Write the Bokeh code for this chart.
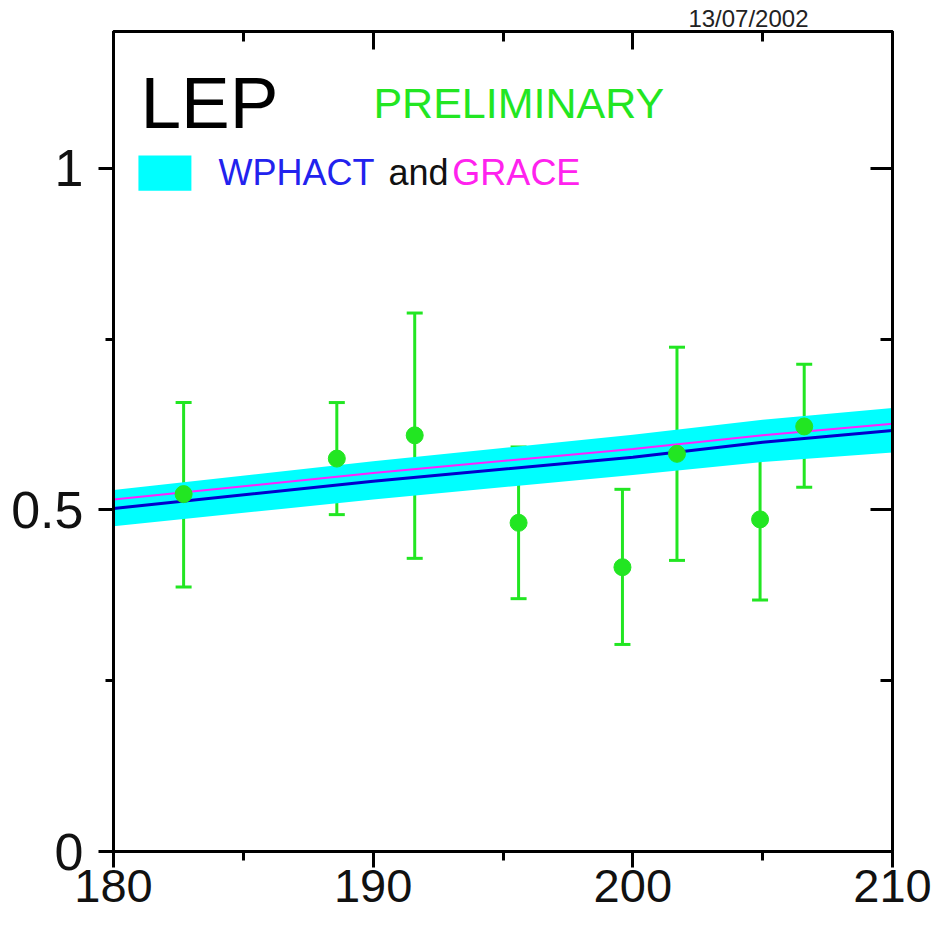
from bokeh.plotting import figure
from bokeh.models import (ColumnDataSource, Whisker, TeeHead, Label, LinearAxis,
                          FixedTicker, Range1d, Title)
from bokeh.embed import file_html
from bokeh.resources import INLINE

# ---- data ----
energy = [182.7, 188.6, 191.6, 195.6, 199.6, 201.7, 204.9, 206.6]
value = [0.523, 0.575, 0.609, 0.481, 0.416, 0.582, 0.486, 0.622]
err_hi = [0.657, 0.657, 0.788, 0.592, 0.530, 0.738, 0.602, 0.713]
err_lo = [0.387, 0.493, 0.429, 0.370, 0.303, 0.426, 0.368, 0.533]

sqrt_s = [180, 190, 200, 205, 210]
band_hi = [0.529, 0.571, 0.610, 0.632, 0.649]
band_lo = [0.476, 0.515, 0.551, 0.570, 0.584]
wphact = [0.502, 0.542, 0.577, 0.599, 0.616]
grace = [0.515, 0.554, 0.589, 0.609, 0.626]

x_ticks = [180, 190, 200, 210]
x_minor = [185, 195, 205]
y_ticks = [0, 0.5, 1]
y_minor = [0.25, 0.75]

FONT = "Liberation Sans"
GREEN = "#22e622"

p = figure(width=938, height=922, output_backend="svg", toolbar_location=None,
           x_range=Range1d(180, 210), y_range=Range1d(0, 1.2),
           x_axis_location=None, y_axis_location=None,
           min_border_left=113, min_border_right=46, min_border_top=31,
           min_border_bottom=71)
p.grid.visible = False
p.outline_line_color = "black"
p.outline_line_width = 3
p.background_fill_color = "white"
p.border_fill_color = "white"

p.title = Title(text="13/07/2002", align="right", text_font=FONT,
                text_font_size="24px", text_font_style="normal",
                text_color="#222222", offset=84, standoff=0)

def make_axis(ticks, minor, labels, tin, tout, mtin, mtout, size="52px"):
    ax = LinearAxis(ticker=FixedTicker(ticks=ticks, minor_ticks=minor))
    ax.axis_line_color = "black"
    ax.axis_line_width = 3
    ax.major_tick_line_width = 3
    ax.minor_tick_line_width = 3
    ax.major_tick_in = tin
    ax.major_tick_out = tout
    ax.minor_tick_in = mtin
    ax.minor_tick_out = mtout
    ax.major_label_text_font = FONT
    ax.major_label_text_font_size = size
    ax.major_label_text_color = "#111111"
    if not labels:
        ax.major_label_text_font_size = "0px"
        ax.major_label_text_alpha = 0
    return ax

bottom = make_axis(x_ticks, x_minor, True, 0, 16, 0, 9, size="47px")
bottom.major_label_standoff = 2
p.add_layout(bottom, "below")
left = make_axis(y_ticks, y_minor, True, 0, 15, 0, 8)
left.major_label_standoff = 15
p.add_layout(left, "left")
top = make_axis(x_ticks, x_minor, False, 18, 0, 10, 0)
top.major_label_standoff = 0
p.add_layout(top, "above")
right = make_axis(y_ticks, y_minor, False, 22, 0, 12, 0)
right.major_label_standoff = 0
p.add_layout(right, "right")

# theory band and lines
p.varea(x=sqrt_s, y1=band_lo, y2=band_hi, fill_color="#00ffff", fill_alpha=1)
p.line(sqrt_s, grace, line_color="#ff22ff", line_width=2)
p.line(sqrt_s, wphact, line_color="#0000cc", line_width=3)

# data
src = ColumnDataSource(dict(x=energy, y=value, hi=err_hi, lo=err_lo))
wh = Whisker(source=src, base="x", upper="hi", lower="lo", dimension="height",
             line_color=GREEN, line_width=3,
             upper_head=TeeHead(size=16, line_color=GREEN, line_width=3),
             lower_head=TeeHead(size=16, line_color=GREEN, line_width=3))
p.add_layout(wh)
p.scatter("x", "y", source=src, size=17, color=GREEN)

# legend / annotations
p.quad(left=180.96, right=183.0, bottom=0.967, top=1.0186,
       fill_color="#00ffff", line_color=None)

def lab(x, y, text, size, color):
    p.add_layout(Label(x=x, y=y, text=text, text_font=FONT,
                       text_font_size=size, text_color=color,
                       text_baseline="alphabetic", text_align="left"))

lab(181.04, 1.096, "LEP", "73px", "black")
lab(190.01, 1.096, "PRELIMINARY", "43px", GREEN)
lab(184.04, 0.994, "WPHACT", "36px", "#2222ee")
lab(190.59, 0.994, "and", "36px", "#111111")
lab(193.05, 0.994, "GRACE", "36px", "#ff22ee")

open("out.html", "w").write(file_html(p, INLINE))
